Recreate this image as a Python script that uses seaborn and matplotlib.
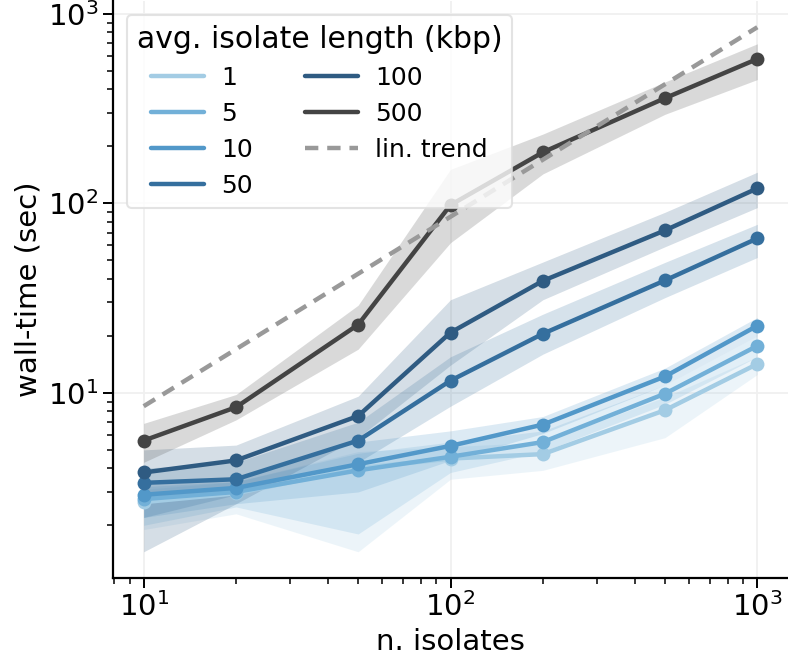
import numpy as np
import pandas as pd
import seaborn as sns
import matplotlib.pyplot as plt
from matplotlib.lines import Line2D

# number of isolates and avg. isolate length (kbp)
n_isolates = [10, 20, 50, 100, 200, 500, 1000]
lengths = [1, 5, 10, 50, 100, 500]

# mean wall-time (sec) per isolate length
mean_1 = [2.65, 2.95, 4.0, 4.5, 4.75, 8.1, 14.2]
mean_5 = [2.75, 3.0, 3.9, 4.6, 5.5, 9.9, 17.7]
mean_10 = [2.9, 3.15, 4.2, 5.25, 6.8, 12.2, 22.6]
mean_50 = [3.35, 3.5, 5.6, 11.6, 20.5, 39.2, 65.3]
mean_100 = [3.8, 4.4, 7.55, 20.8, 39.0, 72.0, 120.0]
mean_500 = [5.6, 8.4, 22.9, 98.0, 186.0, 359.0, 578.0]

# confidence band (lower / upper)
lo_1 = [1.9, 2.3, 1.45, 3.5, 3.9, 5.8, 12.5]
hi_1 = [3.1, 3.4, 4.9, 5.2, 5.5, 9.5, 15.5]
lo_5 = [2.0, 2.5, 1.8, 3.8, 4.9, 8.7, 15.5]
hi_5 = [3.2, 3.4, 4.8, 5.5, 6.3, 11.0, 20.0]
lo_10 = [2.2, 2.6, 3.0, 4.4, 6.1, 11.0, 20.0]
hi_10 = [3.3, 3.6, 5.5, 6.3, 7.5, 13.5, 25.0]
lo_50 = [2.2, 2.9, 4.3, 8.5, 16.0, 31.8, 51.8]
hi_50 = [4.0, 4.3, 7.0, 15.5, 26.0, 48.8, 77.5]
lo_100 = [1.45, 2.6, 5.8, 14.0, 31.0, 59.0, 95.0]
hi_100 = [5.0, 5.3, 9.6, 31.0, 49.0, 89.7, 146.0]
lo_500 = [4.3, 7.2, 17.0, 62.0, 143.0, 295.0, 450.0]
hi_500 = [6.9, 9.8, 29.0, 151.0, 232.0, 437.0, 695.0]

# linear trend
trend_x = [10, 1000]
trend_y = [8.5, 850]

means = [mean_1, mean_5, mean_10, mean_50, mean_100, mean_500]
lows = [lo_1, lo_5, lo_10, lo_50, lo_100, lo_500]
highs = [hi_1, hi_5, hi_10, hi_50, hi_100, hi_500]

rows = []
for length, m in zip(lengths, means):
    for x, y in zip(n_isolates, m):
        rows.append({"n. isolates": x, "length": str(length), "wall-time (sec)": y})
df = pd.DataFrame(rows)

sns.set_theme(style="ticks")
plt.rcParams["font.family"] = ["DejaVu Sans"]
plt.rcParams["text.color"] = "black"
plt.rcParams["axes.labelcolor"] = "black"
FS = 21
LW = 3.2

palette = ["#a3cce4", "#72b0d8", "#5298c9", "#356f9e", "#2f5b82", "#444444"]

fig = plt.figure(figsize=(7.88, 6.67), dpi=100)
ax = fig.add_axes([113 / 788, 1 - 578 / 667, (788 - 113) / 788, (578 - 1) / 667])

for i, length in enumerate(lengths):
    ax.fill_between(n_isolates, lows[i], highs[i], color=palette[i], alpha=0.2, linewidth=0)

sns.lineplot(data=df, x="n. isolates", y="wall-time (sec)", hue="length",
             palette=palette, marker="o", markersize=10, markeredgewidth=0,
             linewidth=LW, ax=ax, legend=False)

ax.plot(trend_x, trend_y, color="#999999", linestyle="--", linewidth=LW, dashes=(3, 2))

ax.set_xscale("log")
ax.set_yscale("log")
ax.grid(True, which="major", color="#f0f0f0", linewidth=1.3)
ax.set_axisbelow(True)
sns.despine(ax=ax)
for s in ["left", "bottom"]:
    ax.spines[s].set_linewidth(1.6)
    ax.spines[s].set_color("black")
ax.tick_params(which="major", labelsize=FS, length=7, width=1.4, colors="black")
ax.tick_params(which="minor", length=4.5, width=1.1, colors="black")
ax.set_xlabel("n. isolates", fontsize=FS)
ax.set_ylabel("wall-time (sec)", fontsize=FS)

handles = [Line2D([], [], color=palette[i], linewidth=LW) for i in range(len(lengths))]
handles.append(Line2D([], [], color="#999999", linestyle="--", linewidth=LW, dashes=(3, 2)))
labels = [str(l) for l in lengths] + ["lin. trend"]
leg = ax.legend(handles, labels, title="avg. isolate length (kbp)", ncol=2,
                loc="upper left", fontsize=18, title_fontsize=21.5,
                frameon=True, borderaxespad=0.55, handlelength=2.1,
                handletextpad=0.7, labelspacing=0.48, columnspacing=2.1,
                borderpad=0.4)
leg.get_frame().set_edgecolor("#dddddd")
leg.get_frame().set_linewidth(1.5)

fig.savefig("out.png", dpi=100)
